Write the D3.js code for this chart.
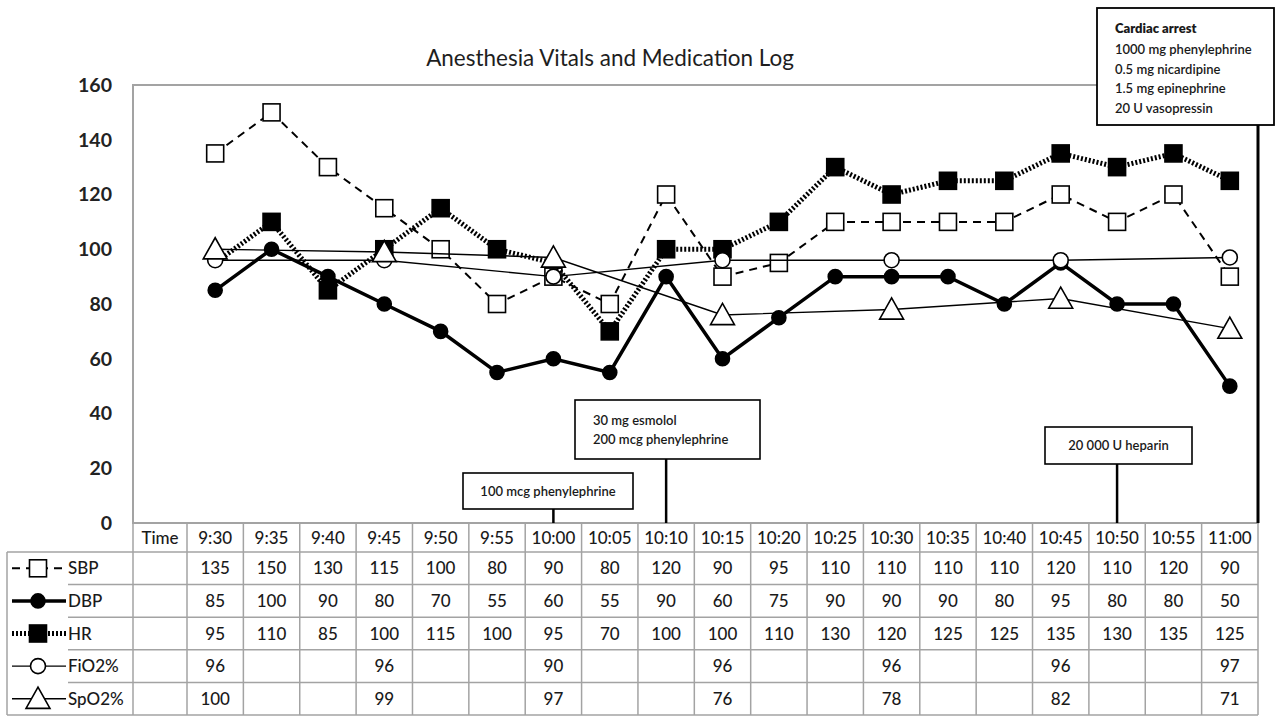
<!DOCTYPE html>
<html>
<head>
<meta charset="utf-8">
<script src="https://cdn.jsdelivr.net/npm/d3@7"></script>
<style>
  html, body { margin: 0; padding: 0; background: #fff; }
  svg { display: block; font-family: Lato, "Open Sans", sans-serif; }
</style>
</head>
<body>
<svg id="chart" width="1279" height="716"></svg>
<script>
// ---------- DATA ----------
const times = ["9:30","9:35","9:40","9:45","9:50","9:55","10:00","10:05","10:10","10:15","10:20","10:25","10:30","10:35","10:40","10:45","10:50","10:55","11:00"];
const sbp  = [135,150,130,115,100,80,90,80,120,90,95,110,110,110,110,120,110,120,90];
const dbp  = [85,100,90,80,70,55,60,55,90,60,75,90,90,90,80,95,80,80,50];
const hr   = [95,110,85,100,115,100,95,70,100,100,110,130,120,125,125,135,130,135,125];
const fio2 = [96,null,null,96,null,null,90,null,null,96,null,null,96,null,null,96,null,null,97];
const spo2 = [100,null,null,99,null,null,97,null,null,76,null,null,78,null,null,82,null,null,71];
const seriesNames = ["SBP","DBP","HR","FiO2%","SpO2%"];
const yTicks = [0,20,40,60,80,100,120,140,160];
const title = "Anesthesia Vitals and Medication Log";
// markers not visible in the original (hidden behind other symbols)
const hrHiddenMarkers = ["9:30","10:00"];

// medication annotations: time at which the leader line points, text lines
const annoTimes = ["10:00","10:10","10:50"];
const annoTexts = [["100 mcg phenylephrine"],["30 mg esmolol","200 mcg phenylephrine"],["20 000 U heparin"]];
const arrestTitle = "Cardiac arrest";
const arrestLines = ["1000 mg phenylephrine","0.5 mg nicardipine","1.5 mg epinephrine","20 U vasopressin"];

// ---------- LAYOUT ----------
const svg = d3.select("#chart");
const plotLeft = 133, plotTop = 85, plotBottom = 523, colStart = 187, plotRight = 1258;
const tableLeft = 7, legendSepX = 68, headerBottom = 552, tableBottom = 715;
const gridColor = "#a3a3a3";
const ink = "#1a1a1a";

const xBand = d3.scaleBand().domain(times).range([colStart, plotRight]);
const xc = t => xBand(t) + xBand.bandwidth() / 2;
const y = d3.scaleLinear().domain([0, 160]).range([plotBottom, plotTop]);
const rowBand = d3.scaleBand().domain(seriesNames).range([headerBottom, tableBottom]);

// ---------- TITLE ----------
const tt = svg.append("text").attr("x", 610).attr("y", 66).attr("text-anchor", "middle")
  .attr("fill", "#1e1e1e").attr("font-size", 21).text(title);
const tw = tt.node().getComputedTextLength();
tt.attr("font-size", 21 * 368 / tw);

// ---------- PLOT FRAME ----------
svg.append("rect").attr("x", plotLeft).attr("y", plotTop)
  .attr("width", plotRight - plotLeft).attr("height", plotBottom - plotTop)
  .attr("fill", "none").attr("stroke", gridColor).attr("stroke-width", 2);

// Y axis labels via d3 axis
const yAxis = svg.append("g").attr("transform", `translate(${plotLeft},0)`)
  .call(d3.axisLeft(y).tickValues(yTicks).tickSize(0).tickPadding(21));
yAxis.select(".domain").remove();
yAxis.selectAll("text").attr("font-family", "Lato, sans-serif").attr("font-size", 19.5)
  .attr("font-weight", 700).attr("fill", "#222");

// ---------- TABLE ----------
const tg = svg.append("g");
const line = (x1, y1, x2, y2) => tg.append("line").attr("x1", x1).attr("y1", y1).attr("x2", x2).attr("y2", y2)
  .attr("stroke", gridColor).attr("stroke-width", 1.5);
line(plotLeft, plotBottom, plotRight, plotBottom);
line(tableLeft, headerBottom, plotRight, headerBottom);
seriesNames.slice(1).forEach(n => line(legendSepX, rowBand(n), plotRight, rowBand(n)));
line(tableLeft, tableBottom, plotRight, tableBottom);
line(tableLeft, headerBottom, tableLeft, tableBottom);
line(plotLeft, plotBottom, plotLeft, tableBottom);
times.forEach(t => line(xBand(t), plotBottom, xBand(t), tableBottom));
line(plotRight, plotBottom, plotRight, tableBottom);

const cellText = (x, yy, s, anchor) => tg.append("text").attr("x", x).attr("y", yy)
  .attr("text-anchor", anchor || "middle").attr("font-size", 17).attr("font-weight", 500)
  .attr("fill", ink).text(s);
const headerMid = (plotBottom + headerBottom) / 2;
cellText((plotLeft + colStart) / 2, headerMid + 6, "Time");
times.forEach(t => cellText(xc(t), headerMid + 6, t));
const seriesData = [sbp, dbp, hr, fio2, spo2];
seriesNames.forEach((n, si) => {
  const cy = rowBand(n) + rowBand.bandwidth() / 2 + 6;
  times.forEach((t, i) => { const v = seriesData[si][i]; if (v != null) cellText(xc(t), cy, v); });
  cellText(legendSepX, cy, n, "start");
});

// ---------- SERIES ----------
const styles = {
  "SBP":   { width: 2,   dash: "8,6", marker: "square", size: 17, fill: "#fff" },
  "DBP":   { width: 3.5, dash: null,  marker: "circle", size: 14, fill: "#000" },
  "HR":    { width: 5,   dash: "2,2", marker: "square", size: 17, fill: "#000" },
  "FiO2%": { width: 1.4, dash: null,  marker: "circle", size: 15, fill: "#fff" },
  "SpO2%": { width: 1.4, dash: null,  marker: "triangle", size: 23, fill: "#fff" }
};
function drawMarker(g, st, cx, cy) {
  const s = st.size;
  let m;
  if (st.marker === "square") m = g.append("rect").attr("x", cx - s/2).attr("y", cy - s/2).attr("width", s).attr("height", s);
  else if (st.marker === "circle") m = g.append("circle").attr("cx", cx).attr("cy", cy).attr("r", s/2);
  else m = g.append("path").attr("d", `M${cx},${cy - s*0.5}L${cx + s*0.52},${cy + s*0.42}L${cx - s*0.52},${cy + s*0.42}Z`);
  m.attr("fill", st.fill).attr("stroke", "#000").attr("stroke-width", 1.6);
}
const lineGen = d3.line().x(d => xc(d.t)).y(d => y(d.v));
const sg = svg.append("g");
seriesNames.forEach((n, si) => {
  const st = styles[n];
  const pts = times.map((t, i) => ({ t, v: seriesData[si][i] })).filter(d => d.v != null);
  const g = sg.append("g");
  g.append("path").datum(pts).attr("d", lineGen).attr("fill", "none").attr("stroke", "#000")
    .attr("stroke-width", st.width).attr("stroke-dasharray", st.dash);
  pts.forEach(d => {
    if (n === "HR" && hrHiddenMarkers.includes(d.t)) return;
    drawMarker(g, st, xc(d.t), y(d.v));
  });
  // legend symbol in table
  const ly = rowBand(n) + rowBand.bandwidth() / 2;
  const lg = svg.append("g");
  lg.append("line").attr("x1", 12).attr("x2", 66).attr("y1", ly).attr("y2", ly)
    .attr("stroke", "#000").attr("stroke-width", st.width).attr("stroke-dasharray", st.dash);
  drawMarker(lg, st, 38, ly);
});

// ---------- ANNOTATIONS ----------
const ag = svg.append("g");
const boxes = [
  { x0: 463, x1: 633, y0: 473, y1: 509 },
  { x0: 575, x1: 760, y0: 400, y1: 459 },
  { x0: 1045, x1: 1192, y0: 427, y1: 464 }
];
annoTimes.forEach((t, i) => {
  const b = boxes[i];
  ag.append("line").attr("x1", xc(t)).attr("x2", xc(t)).attr("y1", b.y1).attr("y2", plotBottom)
    .attr("stroke", "#000").attr("stroke-width", 2.5);
  ag.append("rect").attr("x", b.x0).attr("y", b.y0).attr("width", b.x1 - b.x0).attr("height", b.y1 - b.y0)
    .attr("fill", "#fff").attr("stroke", "#000").attr("stroke-width", 1.6);
  const lines = annoTexts[i];
  const mid = (b.y0 + b.y1) / 2;
  lines.forEach((s, k) => {
    const ty = mid + (k - (lines.length - 1) / 2) * 19 + 4.5;
    const single = lines.length === 1;
    ag.append("text").attr("x", single ? (b.x0 + b.x1) / 2 : b.x0 + 18).attr("y", ty)
      .attr("text-anchor", single ? "middle" : "start").attr("font-size", 13)
      .attr("font-weight", 600).attr("fill", ink).text(s);
  });
});
// cardiac arrest box at the right edge (end of the record)
const arrestX = plotRight;
ag.append("line").attr("x1", arrestX).attr("x2", arrestX).attr("y1", 125).attr("y2", plotBottom)
  .attr("stroke", "#000").attr("stroke-width", 3);
ag.append("rect").attr("x", 1097).attr("y", 8).attr("width", 177).attr("height", 117)
  .attr("fill", "#fff").attr("stroke", "#000").attr("stroke-width", 1.8);
ag.append("text").attr("x", 1115).attr("y", 33).attr("font-size", 13).attr("font-weight", 800)
  .attr("fill", ink).text(arrestTitle);
arrestLines.forEach((s, k) => {
  ag.append("text").attr("x", 1115).attr("y", 54 + k * 19.5).attr("font-size", 13)
    .attr("font-weight", 600).attr("fill", ink).text(s);
});
</script>
</body>
</html>
